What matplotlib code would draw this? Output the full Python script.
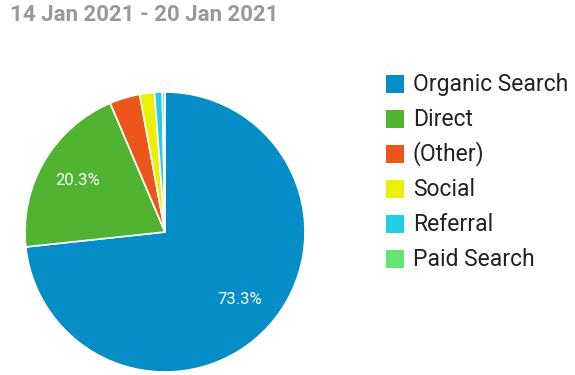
import matplotlib.pyplot as plt
from matplotlib.patches import Rectangle

plt.rcParams['font.family'] = ['Roboto', 'DejaVu Sans']

title = "14 Jan 2021 - 20 Jan 2021"
channels = ["Organic Search", "Direct", "(Other)", "Social", "Referral", "Paid Search"]
shares = [73.3, 20.3, 3.5, 1.7, 0.9, 0.3]
colours = ["#058DC7", "#50B432", "#ED561B", "#EDEF00", "#24CBE5", "#64E572"]

fig = plt.figure(figsize=(5.75, 3.75), dpi=100)
ax = fig.add_axes([25 / 575, 3 / 375, 280 / 575, 280 / 375])

ax.pie(shares, colors=colours, startangle=90, counterclock=False,
       autopct=lambda p: "%.1f%%" % p if p > 5 else "", pctdistance=0.72,
       wedgeprops=dict(edgecolor="white", linewidth=1.2),
       textprops=dict(color="white", fontsize=12))
ax.set_xlim(-1, 1)
ax.set_ylim(-1, 1)
ax.set_aspect("equal")
ax.axis("off")

fig.text(10 / 575, 1 - 15 / 375, title, fontsize=16, fontweight="bold",
         color="#999999", va="center", ha="left")

# legend
for i, (name, c) in enumerate(zip(channels, colours)):
    y = 84 + 35 * i
    fig.patches.append(Rectangle((386 / 575, 1 - (y + 9) / 375), 18 / 575, 18 / 375,
                                 transform=fig.transFigure, facecolor=c, edgecolor="none"))
    fig.text(413 / 575, 1 - y / 375, name, fontsize=16.5, color="#222222",
             va="center", ha="left")

plt.savefig("out.png", dpi=100)
